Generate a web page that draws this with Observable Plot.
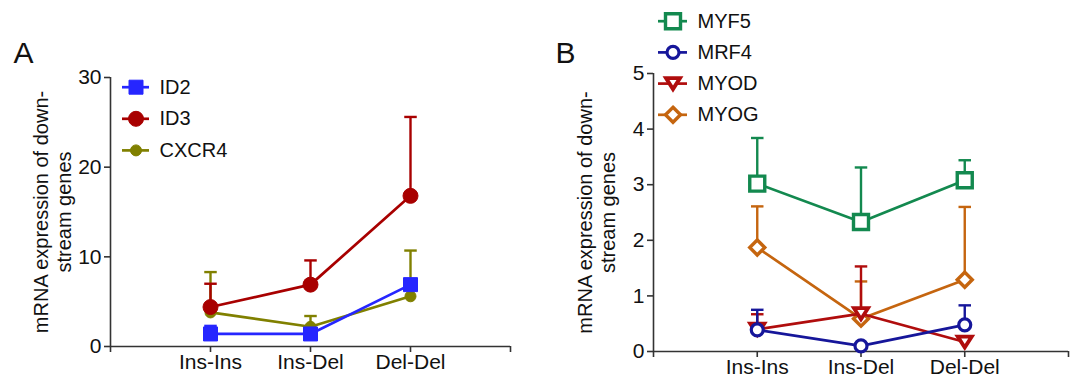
<!DOCTYPE html>
<html><head><meta charset="utf-8">
<script src="https://cdn.jsdelivr.net/npm/d3@7"></script>
<script src="https://cdn.jsdelivr.net/npm/@observablehq/plot@0.6"></script>
<style>
body{margin:0;background:#fff;}
#wrap{position:relative;width:1078px;height:380px;overflow:hidden;background:#fff;}
#wrap > svg{position:absolute;overflow:visible;}
</style></head><body><div id="wrap"></div>
<script>
// ---------- data ----------
const categories = ["Ins-Ins", "Ins-Del", "Del-Del"];
const yTicksA = [0, 10, 20, 30];
const yTicksB = [0, 1, 2, 3, 4, 5];
const yTitle = "mRNA expression of down-\nstream genes";

// Panel A
const id2 = [1.4, 1.4, 6.9];
const id2Err = [0.9, 0.4, 0.6];
const id3 = [4.4, 6.9, 16.8];
const id3Err = [2.6, 2.7, 8.8];
const cxcr4 = [3.8, 2.2, 5.6];
const cxcr4Err = [4.5, 1.2, 5.1];

// Panel B
const myf5 = [3.02, 2.33, 3.08];
const myf5Err = [0.82, 0.98, 0.36];
const mrf4 = [0.39, 0.10, 0.48];
const mrf4Err = [0.36, 0.05, 0.35];
const myod = [0.40, 0.68, 0.17];
const myodErr = [0.27, 0.85, 0.05];
const myog = [1.87, 0.59, 1.29];
const myogErr = [0.74, 0.67, 1.31];

// ---------- symbols (pixel sized) ----------
const sq = s => ({draw(c){ c.rect(-s/2, -s/2, s, s); }});
const circ = r => ({draw(c){ c.moveTo(r, 0); c.arc(0, 0, r, 0, 2*Math.PI); c.closePath(); }});
const triDown = (w, h) => ({draw(c){ c.moveTo(-w/2, -h/2); c.lineTo(w/2, -h/2); c.lineTo(0, h/2); c.closePath(); }});
const diam = h => ({draw(c){ c.moveTo(0, -h); c.lineTo(h, 0); c.lineTo(0, h); c.lineTo(-h, 0); c.closePath(); }});
const cap = w => ({draw(c){ c.moveTo(-w/2, 0); c.lineTo(w/2, 0); }});

const FONT = '"Liberation Sans", Arial, Helvetica, sans-serif';
const INK = "#111";

const seriesA = [
  {name: "ID2", values: id2, errs: id2Err, color: "#2626ff", symbol: sq(14), fill: "#2626ff", sw: 1},
  {name: "ID3", values: id3, errs: id3Err, color: "#a80000", symbol: circ(7.5), fill: "#a80000", sw: 1},
  {name: "CXCR4", values: cxcr4, errs: cxcr4Err, color: "#808000", symbol: circ(5.5), fill: "#808000", sw: 1}
];
const drawOrderA = ["CXCR4", "ID3", "ID2"];

const seriesB = [
  {name: "MYF5", values: myf5, errs: myf5Err, color: "#13894f", symbol: sq(15), fill: "white", sw: 3.4},
  {name: "MRF4", values: mrf4, errs: mrf4Err, color: "#16169a", symbol: circ(6), fill: "white", sw: 3.2},
  {name: "MYOD", values: myod, errs: myodErr, color: "#b00d0d", symbol: triDown(14, 11), fill: "white", sw: 3.8},
  {name: "MYOG", values: myog, errs: myogErr, color: "#c5650f", symbol: diam(7.5), fill: "white", sw: 3.4}
];
const drawOrderB = ["MYF5", "MYOG", "MYOD", "MRF4"];

function rowsOf(s) {
  return categories.map((c, i) => ({series: s.name, cat: c, x: i + 1, y: s.values[i], err: s.errs[i]}));
}

function panel(cfg) {
  const {series, order, yDomain, yTicks, width, height, mL, mR, mT, mB, titleDx, letter, letterDx, letterDy} = cfg;
  const marks = [
    Plot.ruleY([yDomain[0]], {x1: 0, x2: categories.length + 1, stroke: "#333", strokeWidth: 1.6}),
    Plot.ruleX([0], {y1: yDomain[0], y2: yDomain[1], stroke: "#333", strokeWidth: 1.6}),
    Plot.axisX({ticks: d3.range(0, categories.length + 2), tickFormat: i => categories[i - 1] ?? "",
      tickSize: 6, tickPadding: 2, fontSize: 21, stroke: "#333", strokeWidth: 1.6, fill: INK, label: null}),
    Plot.axisY({ticks: yTicks, tickFormat: d3.format("d"), tickSize: 6, tickPadding: 3, fontSize: 21,
      stroke: "#333", strokeWidth: 1.6, fill: INK, label: null}),
    Plot.text([yTitle], {frameAnchor: "left", textAnchor: "middle", lineAnchor: "middle", rotate: -90,
      dx: titleDx, fontSize: 20, lineHeight: 1.15, fill: INK}),
    Plot.text([letter], {frameAnchor: "top-left", textAnchor: "start", lineAnchor: "bottom",
      dx: letterDx, dy: letterDy, fontSize: 30, fill: INK})
  ];
  for (const name of order) {
    const s = series.find(d => d.name === name);
    const d = rowsOf(s);
    marks.push(Plot.ruleX(d, {x: "x", y1: "y", y2: r => r.y + r.err, stroke: s.color, strokeWidth: 2.4}));
    marks.push(Plot.dot(d, {x: "x", y: r => r.y + r.err, symbol: cap(12.5), fill: "none", stroke: s.color, strokeWidth: 2.4}));
    marks.push(Plot.line(d, {x: "x", y: "y", stroke: s.color, strokeWidth: 2.7}));
    marks.push(Plot.dot(d, {x: "x", y: "y", symbol: s.symbol, fill: s.fill, stroke: s.color, strokeWidth: s.sw}));
  }
  return Plot.plot({
    width, height, marginLeft: mL, marginRight: mR, marginTop: mT, marginBottom: mB,
    x: {type: "linear", domain: [0, categories.length + 1], axis: null},
    y: {type: "linear", domain: yDomain, axis: null},
    style: {fontFamily: FONT, background: "transparent", overflow: "visible"},
    marks
  });
}

function legend(series, cfg) {
  const {width, height, x1, x2, tx, y0, gap} = cfg;
  const marks = [];
  series.forEach((s, i) => {
    const y = y0 + i * gap;
    marks.push(Plot.ruleY([y], {x1, x2, stroke: s.color, strokeWidth: 2.7}));
    marks.push(Plot.dot([s], {x: (x1 + x2) / 2, y, symbol: s.symbol, fill: s.fill, stroke: s.color, strokeWidth: s.sw}));
    marks.push(Plot.text([s.name], {x: tx, y, textAnchor: "start", fontSize: 20, fill: INK}));
  });
  return Plot.plot({
    width, height, margin: 0,
    x: {type: "identity", axis: null},
    y: {type: "identity", axis: null},
    style: {fontFamily: FONT, background: "transparent", overflow: "visible"},
    marks
  });
}

const wrap = document.getElementById("wrap");
function place(el, left, top) { el.style.left = left + "px"; el.style.top = top + "px"; wrap.appendChild(el); }

place(panel({series: seriesA, order: drawOrderA, yDomain: [0, 30], yTicks: yTicksA,
  width: 540, height: 380, mL: 110, mR: 30, mT: 77, mB: 34, titleDx: -58,
  letter: "A", letterDx: -97, letterDy: -15}), 0, 0);

place(panel({series: seriesB, order: drawOrderB, yDomain: [0, 5], yTicks: yTicksB,
  width: 538, height: 380, mL: 113, mR: 10, mT: 73, mB: 29, titleDx: -57,
  letter: "B", letterDx: -98, letterDy: -11}), 540, 0);

place(legend(seriesA, {width: 140, height: 100, x1: 12, x2: 39, tx: 49, y0: 16.7, gap: 31.6}), 110, 70);
place(legend(seriesB, {width: 140, height: 130, x1: 13, x2: 42, tx: 52, y0: 15.7, gap: 31.2}), 645, 5);
</script></body></html>
